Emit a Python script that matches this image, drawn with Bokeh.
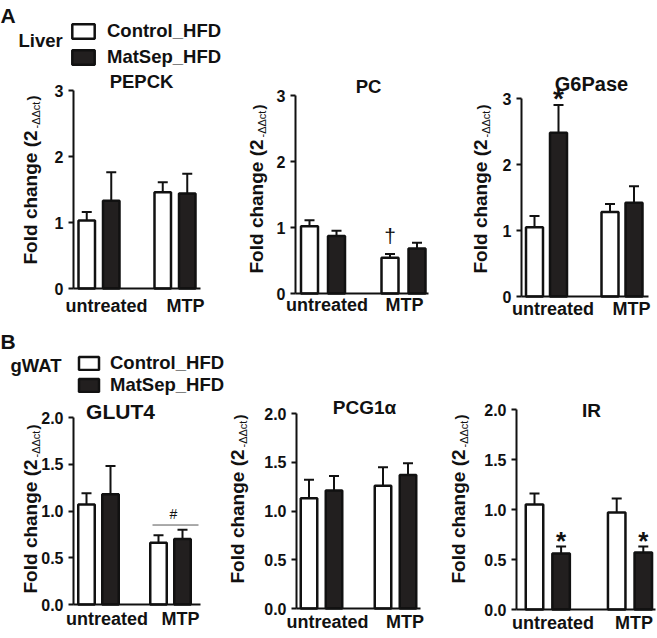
import math
from bokeh.plotting import figure
from bokeh.models import (Range1d, FixedTicker, NumeralTickFormatter, Label,
                          Legend, LegendItem, Whisker, TeeHead, ColumnDataSource)
from bokeh.layouts import row, column
from bokeh.embed import file_html
from bokeh.resources import INLINE

# ---------------- data ----------------
groups = ["untreated", "MTP"]
series = ["Control_HFD", "MatSep_HFD"]

pepck_ctrl = [1.03, 1.46]
pepck_ctrl_sem = [0.13, 0.15]
pepck_mat = [1.33, 1.44]
pepck_mat_sem = [0.43, 0.30]

pc_ctrl = [1.02, 0.54]
pc_ctrl_sem = [0.09, 0.06]
pc_mat = [0.87, 0.68]
pc_mat_sem = [0.08, 0.09]

g6pase_ctrl = [1.05, 1.28]
g6pase_ctrl_sem = [0.17, 0.12]
g6pase_mat = [2.48, 1.42]
g6pase_mat_sem = [0.42, 0.25]

glut4_ctrl = [1.07, 0.66]
glut4_ctrl_sem = [0.12, 0.08]
glut4_mat = [1.18, 0.70]
glut4_mat_sem = [0.30, 0.10]

pcg1a_ctrl = [1.13, 1.26]
pcg1a_ctrl_sem = [0.19, 0.19]
pcg1a_mat = [1.21, 1.37]
pcg1a_mat_sem = [0.15, 0.12]

ir_ctrl = [1.05, 0.97]
ir_ctrl_sem = [0.11, 0.14]
ir_mat = [0.56, 0.57]
ir_mat_sem = [0.07, 0.06]

liver_ticks = [0, 1, 2, 3]
gwat_ticks = [0, 0.5, 1.0, 1.5, 2.0]

FONT = "Liberation Sans"
INK = "#111111"
DARK = "#221f1f"


def make_panel(spec):
    fx, fy, fw, fh = spec["fig"]
    fl, fr, ft, fb = spec["frame"]
    c1, c2 = spec["centers"]
    unit = float(c2 - c1)
    ymax = spec["ymax"]
    ys = (fb - ft) / ymax

    def cx(px):
        return (px - c1) / unit

    def cy(py):
        return (fb - py) / ys

    p = figure(width=fw, height=fh, output_backend="svg", toolbar_location=None,
               x_range=Range1d(cx(fx), cx(fx + fw)), y_range=Range1d(cy(fy + fh), cy(fy)),
               min_border=0, min_border_left=0, min_border_right=0,
               min_border_top=0, min_border_bottom=0, frame_align=False)
    p.outline_line_color = None
    p.xgrid.grid_line_color = None
    p.ygrid.grid_line_color = None
    p.background_fill_color = "white"
    p.border_fill_color = "white"

    # axes (drawn at fixed data locations, bounded to the plotted region)
    t1 = round(cx(spec["xlabels"][0]), 4)
    t2 = round(cx(spec["xlabels"][1]), 4)
    p.xaxis.ticker = FixedTicker(ticks=[t1, t2])
    p.xaxis.major_label_overrides = {t1: groups[0], t2: groups[1]}
    p.xaxis.fixed_location = 0
    p.xaxis.bounds = (cx(fl), cx(fr))
    p.yaxis.ticker = FixedTicker(ticks=spec["ticks"])
    p.yaxis.fixed_location = cx(fl)
    p.yaxis.bounds = (0, ymax)
    if spec["ymax"] < 2.5:
        p.yaxis.formatter = NumeralTickFormatter(format="0.0")
    for ax in (p.xaxis[0], p.yaxis[0]):
        ax.axis_line_width = 2
        ax.axis_line_color = INK
        ax.major_tick_line_width = 2
        ax.major_tick_line_color = INK
        ax.minor_tick_line_color = None
        ax.major_label_text_font = FONT
        ax.major_label_text_font_style = "bold"
        ax.major_label_text_color = INK
    p.xaxis.major_tick_in = 0
    p.xaxis.major_tick_out = 0
    p.xaxis.major_label_text_font_size = "18px"
    p.xaxis.major_label_standoff = spec["xstandoff"]
    p.yaxis.major_tick_in = 0
    p.yaxis.major_tick_out = 5
    p.yaxis.major_label_text_font_size = "16px"
    p.yaxis.major_label_standoff = 5

    # bars
    xs = list(range(len(groups)))
    off = spec["off"] / unit
    bw = (spec["bw"] - 2.5) / unit
    ctrl, ctrl_sem, mat, mat_sem = spec["data"]
    src_c = ColumnDataSource(dict(x=[x - off for x in xs], top=ctrl,
                                  upper=[v + e for v, e in zip(ctrl, ctrl_sem)]))
    src_m = ColumnDataSource(dict(x=[x + off for x in xs], top=mat,
                                  upper=[v + e for v, e in zip(mat, mat_sem)]))
    for src in (src_c, src_m):
        p.add_layout(Whisker(source=src, base="x", lower="top", upper="upper",
                             dimension="height", line_color=INK, line_width=2,
                             upper_head=TeeHead(size=10, line_color=INK, line_width=2),
                             lower_head=None, level="glyph"))
    r_c = p.vbar(x="x", top="top", bottom=0, width=bw, source=src_c,
                 fill_color="white", line_color=INK, line_width=2.5)
    r_m = p.vbar(x="x", top="top", bottom=0, width=bw, source=src_m,
                 fill_color=DARK, line_color=INK, line_width=2.5)

    def text(px, py, s, size, bold=True, align="center", baseline="middle", angle=0.0):
        p.add_layout(Label(x=cx(px), y=cy(py), text=s, text_font=FONT,
                           text_font_size=f"{size}px",
                           text_font_style="bold" if bold else "normal",
                           text_align=align, text_baseline=baseline, angle=angle,
                           text_color=INK))

    # title
    tx, ty, tsize = spec["title_pos"]
    text(tx, ty, spec["title"], tsize)

    # y axis label
    yx, yb = spec["ylabel"]
    text(yx, yb, "Fold change (2", 19, align="left", angle=math.pi / 2)
    text(yx + 5, yb - 136, "-\u0394\u0394ct", 11, bold=False, align="left", angle=math.pi / 2)
    text(yx + 2, yb - 164, ")", 15, align="left", angle=math.pi / 2)

    return p, text, cx, cy, (r_c, r_m)


specs = [
    dict(fig=(0, 0, 227, 324), frame=(73, 200, 90, 288), centers=(98.5, 174.5), off=12.25, bw=19,
         ymax=3, ticks=liver_ticks, xlabels=(106, 185), xstandoff=7, title="PEPCK",
         title_pos=(141, 81, 18.5), ylabel=(30, 264),
         data=(pepck_ctrl, pepck_ctrl_sem, pepck_mat, pepck_mat_sem)),
    dict(fig=(227, 0, 211, 324), frame=(295, 428, 95, 293), centers=(322.5, 403), off=13.5, bw=19.5,
         ymax=3, ticks=liver_ticks, xlabels=(326.5, 404), xstandoff=1, title="PC",
         title_pos=(368, 86, 18.5), ylabel=(256, 273),
         data=(pc_ctrl, pc_ctrl_sem, pc_mat, pc_mat_sem)),
    dict(fig=(438, 0, 218, 324), frame=(521, 648, 98, 296), centers=(546, 621.5), off=12, bw=19.5,
         ymax=3, ticks=liver_ticks, xlabels=(552.5, 631), xstandoff=2, title="G6Pase",
         title_pos=(591, 83, 20), ylabel=(480, 273),
         data=(g6pase_ctrl, g6pase_ctrl_sem, g6pase_mat, g6pase_mat_sem)),
    dict(fig=(0, 324, 227, 313), frame=(73, 200, 417, 604), centers=(98, 170), off=12, bw=19,
         ymax=2.0, ticks=gwat_ticks, xlabels=(106.5, 180), xstandoff=4, title="GLUT4",
         title_pos=(120, 411, 21), ylabel=(30, 593),
         data=(glut4_ctrl, glut4_ctrl_sem, glut4_mat, glut4_mat_sem)),
    dict(fig=(227, 324, 211, 313), frame=(296, 420, 413, 608), centers=(321, 395), off=12.5, bw=19,
         ymax=2.0, ticks=gwat_ticks, xlabels=(327, 404.5), xstandoff=3, title="PCG1\u03b1",
         title_pos=(364, 407, 19), ylabel=(237, 583),
         data=(pcg1a_ctrl, pcg1a_ctrl_sem, pcg1a_mat, pcg1a_mat_sem)),
    dict(fig=(438, 324, 218, 313), frame=(516, 655, 409, 609), centers=(547.3, 629.5), off=13.3, bw=20,
         ymax=2.0, ticks=gwat_ticks, xlabels=(552.5, 633.5), xstandoff=3, title="IR",
         title_pos=(591, 410, 19), ylabel=(458, 583),
         data=(ir_ctrl, ir_ctrl_sem, ir_mat, ir_mat_sem)),
]

panels = [make_panel(s) for s in specs]


def add_legend(panel, spec, left, top, gw, gh, standoff, spacing, size, item_h):
    p, _, _, _, (r_c, r_m) = panel
    fx, fy, fw, fh = spec["fig"]
    height = 2 * item_h + spacing
    lg = Legend(items=[LegendItem(label=series[0], renderers=[r_c]),
                       LegendItem(label=series[1], renderers=[r_m])],
                location=(left - fx, fy + fh - (top + height)), orientation="vertical",
                glyph_width=gw, glyph_height=gh, label_standoff=standoff, spacing=spacing,
                padding=0, margin=0, border_line_color=None, background_fill_alpha=0,
                label_text_font=FONT, label_text_font_style="bold",
                label_text_font_size=f"{size}px", label_text_color=INK, label_height=18)
    p.add_layout(lg)


# Liver (A)
p1, text1, cx1, cy1, _ = panels[0]
text1(0, 15, "A", 21, align="left")
text1(18, 40, "Liver", 18.5, align="left")
add_legend(panels[0], specs[0], 69, 23, 28, 18, 10, 4, 18.5, 20.7)

# PC dagger
p2, text2, cx2, cy2, _ = panels[1]
text2(389.5, 235, "\u2020", 21, bold=False, baseline="alphabetic")

# G6Pase star
p3, text3, cx3, cy3, _ = panels[2]
text3(558, 98, "*", 28, baseline="alphabetic")

# gWAT (B)
p4, text4, cx4, cy4, _ = panels[3]
text4(0, 341, "B", 21, align="left")
text4(10, 365, "gWAT", 18.5, align="left")
add_legend(panels[3], specs[3], 76, 355, 25, 16, 9, 0, 18.5, 20.7)
bracket_y = max(max(v + e for v, e in zip(glut4_ctrl[1:], glut4_ctrl_sem[1:])),
                max(v + e for v, e in zip(glut4_mat[1:], glut4_mat_sem[1:]))) + 0.05
p4.segment(x0=[cx4(152)], y0=[bracket_y], x1=[cx4(198)], y1=[bracket_y],
           line_color="#555555", line_width=1)
text4(173, 513, "#", 14, bold=False, baseline="alphabetic")

# IR stars
p6, text6, cx6, cy6, _ = panels[5]
text6(560.6, 540, "*", 26, baseline="alphabetic")
text6(642.8, 540, "*", 26, baseline="alphabetic")

layout = column(row(*[pn[0] for pn in panels[:3]]), row(*[pn[0] for pn in panels[3:]]))

open("out.html", "w").write(file_html(layout, INLINE))
